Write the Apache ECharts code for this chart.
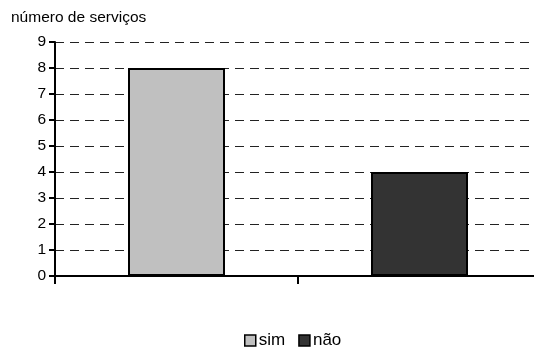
<!DOCTYPE html>
<html>
<head>
<meta charset="utf-8">
<script src="https://cdn.jsdelivr.net/npm/echarts@6/dist/echarts.min.js"></script>
<style>
  html, body { margin: 0; padding: 0; background: #fff; }
  #chart { width: 534px; height: 348px; }
</style>
</head>
<body>
<div id="chart"></div>
<script>
const categories = ['sim', 'não']
const simValues = [8, '-']
const naoValues = ['-', 4]
const yTicks = { min: 0, max: 9, interval: 1 }

const font = 'Liberation Sans, Arial, sans-serif'
const chart = echarts.init(document.getElementById('chart'))

chart.setOption({
  animation: false,
  textStyle: { fontFamily: font },
  // plot runs a little past the right edge, as in the original
  grid: { left: 55, width: 486, top: 42, bottom: 72, outerBoundsMode: 'none', containLabel: false },
  legend: {
    left: 239,
    top: 327,
    itemWidth: 11,
    itemHeight: 11,
    itemGap: 13,
    textStyle: { fontSize: 17, color: '#000', fontFamily: font, padding: [0, 0, 0, -2] },
    data: [
      { name: 'sim', icon: 'rect', itemStyle: { color: '#c0c0c0', borderColor: '#000', borderWidth: 1.5 } },
      { name: 'não', icon: 'rect', itemStyle: { color: '#333333', borderColor: '#000', borderWidth: 1.5 } }
    ]
  },
  xAxis: {
    type: 'category',
    data: categories,
    axisLine: { lineStyle: { color: '#000', width: 2 } },
    axisTick: { show: true, length: 8, lineStyle: { color: '#000', width: 2 } },
    axisLabel: { show: false },
    splitLine: { show: false }
  },
  yAxis: {
    type: 'value',
    min: yTicks.min,
    max: yTicks.max,
    interval: yTicks.interval,
    name: 'número de serviços',
    nameLocation: 'end',
    nameGap: 16,
    nameTextStyle: { fontSize: 15.5, color: '#000', align: 'left', padding: [0, 0, 0, -44] },
    axisLine: { show: true, lineStyle: { color: '#000', width: 2 } },
    axisTick: { show: true, length: 6, lineStyle: { color: '#000', width: 2 } },
    axisLabel: { fontSize: 15.5, color: '#000', margin: 9 },
    splitLine: { show: true, lineStyle: { color: '#222', type: [9, 6], width: 1 } }
  },
  series: [
    {
      name: 'sim',
      type: 'bar',
      stack: 'total',
      barWidth: 97,
      data: simValues,
      itemStyle: { color: '#c0c0c0', borderColor: '#000', borderWidth: 2 }
    },
    {
      name: 'não',
      type: 'bar',
      stack: 'total',
      barWidth: 97,
      data: naoValues,
      itemStyle: { color: '#333333', borderColor: '#000', borderWidth: 2 }
    }
  ]
})
</script>
</body>
</html>
